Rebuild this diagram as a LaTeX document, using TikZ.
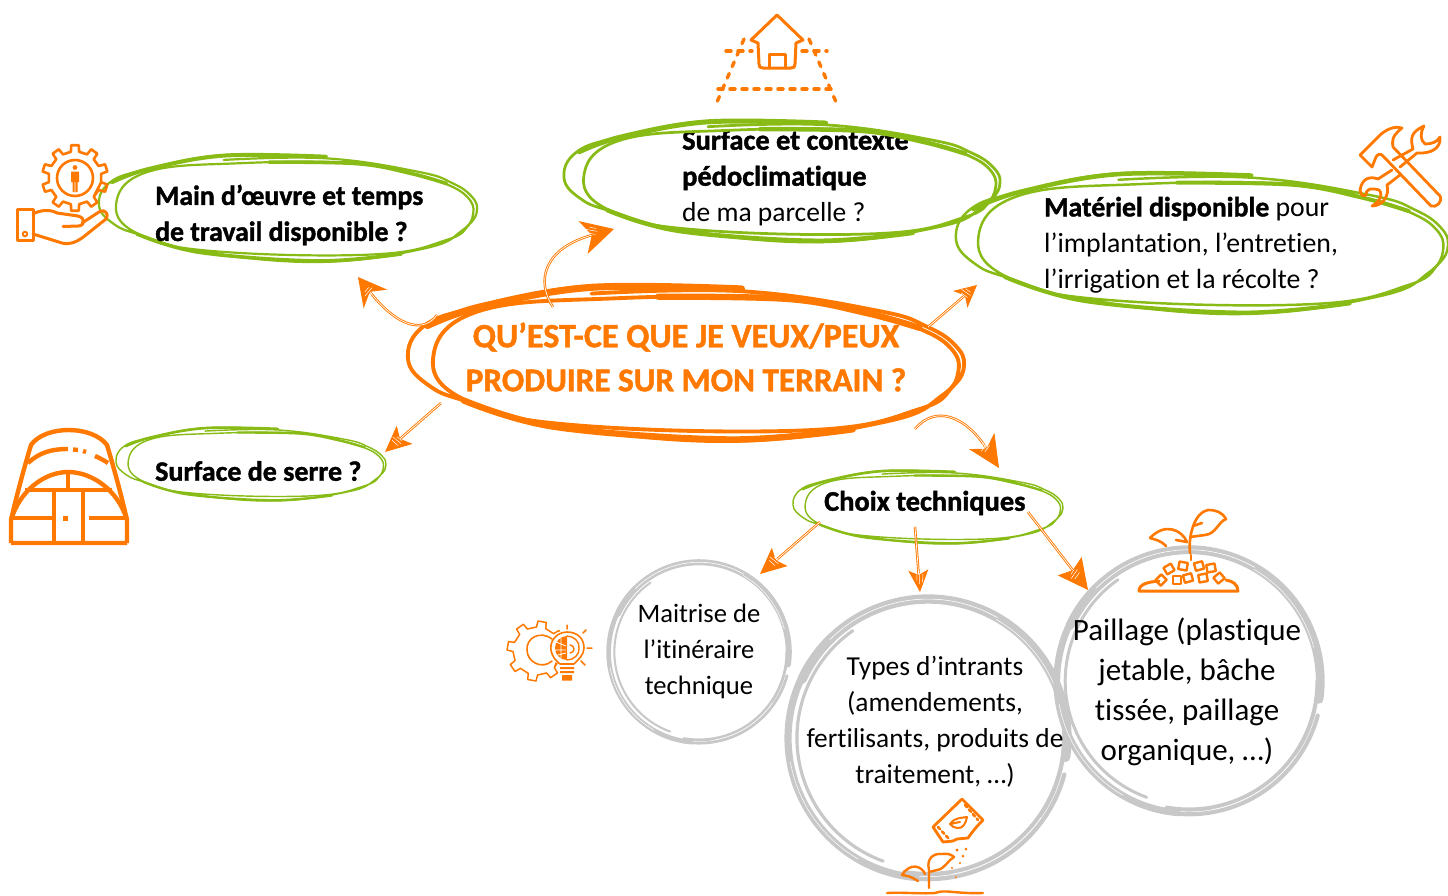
\documentclass[tikz,border=0pt]{standalone}
\usepackage{fontspec}
\setmainfont{Carlito}[Ligatures=CommonOff,BoldFeatures={FakeBold=1.4}]
\usetikzlibrary{arrows.meta,shapes.geometric}
\definecolor{ora}{HTML}{FF7800}
\definecolor{grn}{HTML}{88BB16}
\definecolor{gry}{HTML}{C8C8C8}
\tikzset{
 anch/.style={ellipse,inner sep=0pt,outer sep=0pt},
 body/.style={font=\fontsize{#1}{36}\selectfont,align=left,anchor=west,inner sep=0pt,text=black},
 cbody/.style={font=\fontsize{#1}{36}\selectfont,align=center,inner sep=0pt,text=black},
 title/.style={font=\fontsize{34}{44}\selectfont\bfseries,align=center,inner sep=0pt,text=ora},
 conn/.style={draw=ora,line width=.9pt,double=white,double distance=.7pt},
 ico/.style={draw=ora,line width=#1,line join=round,line cap=round},
 ico/.default=2.5pt
}
\newcommand{\sketchloop}[7]{%
 \node[anch,minimum width=#4*2pt,minimum height=#5*2pt] (#1) at (#2,#3) {};
 \begin{scope}[shift={(#2,#3)},x=#4pt,y=-#5pt,draw=#6,line cap=round,line join=round]
  \draw[line width=#7*.55pt] plot[smooth,tension=.7] coordinates {(.20,-.94)(-.34,-.98)(-.74,-.72)(-.94,-.48)(-1,-.05)(-.92,.3)(-.78,.5)(-.47,.80)(.16,1)(.72,.75)(.92,.42)(.98,.1)(.95,-.2)(.84,-.44)(.68,-.62)(.37,-.83)(-.25,-.83)(-.75,-.66)(-.91,-.05)(-.78,.5)(-.39,.8)(.45,.86)(.84,.59)(.96,.3)(1,.03)(.97,-.22)(.87,-.46)(.69,-.67)(.20,-.92)(-.34,-.89)};
  \draw[line width=#7*1pt] plot[smooth,tension=.6] coordinates {(.20,-.95)(-.34,-.97)(-.74,-.72)(-.93,-.48)};
  \draw[line width=#7*.9pt] plot[smooth,tension=.6] coordinates {(-.8,.48)(-.47,.82)(.16,.98)(.6,.85)};
  \draw[line width=#7*.9pt] plot[smooth,tension=.6] coordinates {(-.1,-.85)(.37,-.82)(.65,-.64)(.84,-.45)};
 \end{scope}}
\newcommand{\brushring}[4]{%
 \node[circle,inner sep=0pt,outer sep=0pt,minimum size=#4*2pt] (#1) at (#2,#3) {};
 \begin{scope}[shift={(#2,#3)},draw=gry,line cap=round]
  \draw[line width=#4*.065pt] (205:#4*.965) arc[start angle=205,end angle=368,radius=#4*.965];
  \draw[line width=#4*.05pt] (95:#4*.972) arc[start angle=95,end angle=225,radius=#4*.972];
  \draw[line width=#4*.03pt] (0:#4*.945) arc[start angle=0,end angle=100,radius=#4*.945];
  \draw[line width=#4*.03pt] (15:#4*.98) arc[start angle=15,end angle=125,radius=#4*.98];
  \draw[line width=#4*.022pt] (110:#4*.91) arc[start angle=110,end angle=235,radius=#4*.91];
  \draw[draw=white,line width=.6pt] (225:#4*.965) arc[start angle=225,end angle=300,radius=#4*.965];
  \draw[draw=white,line width=.5pt] (300:#4*.95) arc[start angle=300,end angle=345,radius=#4*.95];
  \draw[draw=white,line width=.5pt] (120:#4*.97) arc[start angle=120,end angle=170,radius=#4*.97];
  \draw[draw=white,line width=.5pt] (35:#4*.96) arc[start angle=35,end angle=80,radius=#4*.96];
 \end{scope}}
\newcommand{\gearicon}[7]{% cx cy Rout Rin teeth lw offset
 \begin{scope}[shift={(#1,#2)}]
  \draw[ico=#6] (#7-90/#5:#4) \foreach \i in {0,...,#5}{ -- ({#7+\i*360/#5-65/#5}:#3) -- ({#7+\i*360/#5+65/#5}:#3) -- ({#7+\i*360/#5+90/#5}:#4) -- ({#7+(\i+1)*360/#5-90/#5}:#4)} -- cycle;
 \end{scope}}
\newcommand{\pebble}[3]{\draw[ico=2.4pt,rotate around={#3:(#1,#2)}] (#1-4.2,#2-3.8) rectangle (#1+4.2,#2+3.8);}
% white scratches in an arrow head: x y angle
\newcommand{\scratchmark}[3]{\draw[white,line width=.5pt,rotate around={#3:(#1,#2)}] (#1-6,#2) -- (#1+5,#2-1) (#1-4,#2+3) -- (#1+4,#2+2.5) (#1-3,#2-3) -- (#1+3,#2-3.5);}
\begin{document}
\begin{tikzpicture}[x=1pt,y=-1pt]
\useasboundingbox (0,0) rectangle (1448,895);
% --- title
\node[title] (titletext) at (686,357) {QU’EST-CE QUE JE VEUX/PEUX\\{\fontsize{33.2}{44}\selectfont PRODUIRE SUR MON TERRAIN ?}};
\sketchloop{main}{686}{363}{278}{78}{ora}{7}
% --- main d'oeuvre
\sketchloop{moe}{288}{208}{189}{54}{grn}{4}
\node[body=27.7] (moetext) at (155,215) {\bfseries Main d’œuvre et temps\\\bfseries de travail disponible ?};
% --- surface contexte
\node[body=28.4] (surftext) at (682,178) {\bfseries Surface et contexte\\\bfseries pédoclimatique\\{\fontsize{27.5}{36}\selectfont de ma parcelle ?}};
\sketchloop{surf}{782}{181}{218}{61}{grn}{5}
% --- materiel
\sketchloop{mat}{1202}{243}{246}{71}{grn}{4.5}
\node[body=27.8] (mattext) at (1044,245) {\textbf{Matériel disponible} pour\\l’implantation, l’entretien,\\l’irrigation et la récolte ?};
% --- serre
\sketchloop{serre}{251}{464}{135}{37}{grn}{2.6}
\node[body=28] (serretext) at (155,471) {\bfseries Surface de serre ?};
% --- choix
\sketchloop{choix}{928}{507}{135}{37}{grn}{2.6}
\node[body=28.4] (choixtext) at (824,503) {\bfseries Choix techniques};
% --- rings
\brushring{itin}{699}{652}{93}
\brushring{types}{928}{738}{144}
\brushring{pail}{1189}{681}{136}
\node[cbody=26.6] (itintext) at (699,651) {Maitrise de\\l’itinéraire\\technique};
\node[cbody=27.4] (typestext) at (935,722) {Types d’intrants\\(amendements,\\fertilisants, produits de\\traitement, …)};
\node[cbody=31,font=\fontsize{31}{40}\selectfont] (pailtext) at (1187,692) {Paillage (plastique\\jetable, bâche\\tissée, paillage\\organique, …)};
% --- connectors
\draw[conn,-{Stealth[length=28pt,width=30pt,inset=9pt,fill=ora]}] ([shift={(-249,-48)}]main.center) .. controls (425,332) and (400,330) .. ([shift={(70,69)}]moe.center);
\draw[conn,-{Stealth[length=32pt,width=34pt,inset=9pt,fill=ora]}] ([shift={(-133,-56)}]main.center) .. controls (535,280) and (545,248) .. ([shift={(-168,48)}]surf.center);
\draw[conn,-{Stealth[length=22pt,width=22pt,inset=6pt,fill=ora]}] ([shift={(242,-36)}]main.center) -- ([shift={(-225,42)}]mat.center);
\draw[conn,-{Stealth[length=26pt,width=24pt,inset=6pt,fill=ora]}] ([shift={(-245,40)}]main.center) -- ([shift={(134,-12)}]serre.center);
\draw[conn,-{Stealth[length=32pt,width=30pt,inset=9pt,fill=ora]}] ([shift={(229,66)}]main.center) .. controls (935,405) and (965,415) .. ([shift={(71,-39)}]choix.center);
\draw[conn,-{Stealth[length=26pt,width=24pt,inset=5pt,fill=ora]}] ([shift={(-108,15)}]choix.center) -- ([shift={(61,-78)}]itin.center);
\draw[conn,-{Stealth[length=22pt,width=20pt,inset=5pt,fill=ora]}] ([shift={(-13,20)}]choix.center) -- ([shift={(-8,-146)}]types.center);
\draw[conn,-{Stealth[length=30pt,width=30pt,inset=5pt,fill=ora]}] ([shift={(100,5)}]choix.center) -- ([shift={(-101,-91)}]pail.center);
\scratchmark{369}{292}{45}
\scratchmark{592}{231}{-15}
\scratchmark{966}{293}{-40}
\scratchmark{397}{441}{-45}
\scratchmark{985}{447}{50}
\scratchmark{774}{561}{-45}
\scratchmark{920}{578}{85}
\scratchmark{1075}{574}{50}
% --- icon: gear + hand
\gearicon{75}{178}{33}{26.5}{10}{2.6pt}{18}
\draw[ico=2.6pt] (75,178) circle (18);
\fill[ora] (75,167.5) circle (2.4) (71,171.5) rectangle (79,182) (72.5,182) rectangle (74.6,192) (75.4,182) rectangle (77.5,192);
\draw[ico=3pt] (17.5,209) rectangle (33,240);
\draw[ico=2pt] (25,234) circle (2.2);
\draw[ico=3pt] (33,214) .. controls (40,210) and (50,209) .. (57,213) -- (78,216) .. controls (86,218) and (85,226) .. (78,226) -- (63,226.5);
\draw[ico=3pt] (33,234) -- (62,243) .. controls (70,245) and (76,242) .. (82,238) -- (106,219) .. controls (110,214) and (104,208) .. (99,212) -- (82,223);
% --- icon: house
\draw[ico=3pt] (758,43) -- (751,40) -- (777,15) -- (803,40) -- (796,43) -- (795,64) .. controls (795,67) and (794,68) .. (791,68) -- (763,68) .. controls (760,68) and (759,67) .. (759,64) -- cycle;
\draw[ico=3pt] (769,68) -- (769,54) -- (785,54) -- (785,68);
\draw[ico=3.4pt,dash pattern=on 5pt off 7pt] (726,51) -- (752,51);
\draw[ico=3.4pt,dash pattern=on 5pt off 7pt] (802,51) -- (827,51);
\draw[ico=3.4pt,dash pattern=on 5pt off 7pt] (718,89) -- (837,89);
\draw[ico=3.4pt,dash pattern=on 5pt off 7.5pt] (744,39) -- (717,102);
\draw[ico=3.4pt,dash pattern=on 5pt off 7.5pt] (809,39) -- (836,102);
% --- icon: greenhouse
\draw[ico=4.4pt,line cap=butt] (11,543) -- (127,543) (11,543) -- (11,520) .. controls (18,490) and (25,465) .. (31,445) .. controls (45,425) and (92,425) .. (107,445) .. controls (113,465) and (120,490) .. (127,520) -- (127,543);
\draw[ico=4.4pt,line cap=butt] (28,463) .. controls (40,452) and (52,449) .. (68,449);
\draw[ico=4.4pt,line cap=butt] (73,449.5) -- (78,450) (83,451) -- (86,452) (95,456) .. controls (100,458) and (105,461) .. (108,463);
\draw[ico=4.4pt,line cap=butt] (11,520) .. controls (20,490) and (45,472) .. (68,472) .. controls (92,472) and (118,490) .. (127,520);
\draw[ico=4.4pt,line cap=butt] (25,490) -- (112,490) (68,472) -- (68,490) (54,490) -- (54,543) (83,490) -- (83,543) (11,518) -- (54,518) (89,518) -- (127,518);
\fill[ora] (62.5,515.5) rectangle (67.5,520.5);
% --- icon: tools
\draw[ico=2.8pt] (1360,155) -- (1380,135) .. controls (1388,128) and (1396,126) .. (1402,128) .. controls (1396,133) and (1391,137) .. (1393,147) -- (1440,196) .. controls (1443,202) and (1436,208) .. (1431,206) -- (1383,156) .. controls (1380,153) and (1378,154) .. (1376,157) -- (1372,167) -- cycle;
\draw[ico=2.8pt] (1393,160) -- (1413,149) .. controls (1410,138) and (1411,132) .. (1424,126) .. controls (1420,133) and (1420,140) .. (1425,144) .. controls (1432,144) and (1437,142) .. (1440,137) .. controls (1441,147) and (1433,154) .. (1417,153) -- (1400,167);
\draw[ico=2.8pt] (1392,170) -- (1378,179) .. controls (1370,176) and (1362,178) .. (1360,190) .. controls (1361,195) and (1363,197) .. (1366,195) .. controls (1366,188) and (1372,188) .. (1379,190) .. controls (1384,195) and (1378,203) .. (1372,206) .. controls (1382,206) and (1390,196) .. (1387,185) -- (1400,175);
% --- icon: bulb gear
\gearicon{537}{651}{30}{24}{8}{1.5pt}{10}
\fill[white] (567,648) circle (18);
\draw[ico=1.6pt] (552,639) .. controls (540,630) and (526,638) .. (527,650) .. controls (527,662) and (542,670) .. (552,661);
\draw[ico=1.6pt] (560,664) .. controls (552,658) and (550,650) .. (551,645) .. controls (553,635) and (562,632) .. (567,632) .. controls (577,632) and (584,638) .. (584,648) .. controls (584,655) and (578,660) .. (574,664) -- cycle;
\fill[ora] (567,636) arc[start angle=-90,end angle=-270,radius=12] -- cycle;
\draw[white,line width=.8pt] (556,642) -- (566,646) (555,650) -- (566,650) (558,655) -- (566,653) (561,638) -- (561,658);
\draw[ico=1.4pt] (567,636) .. controls (574,636) and (580,642) .. (579,648) .. controls (580,654) and (574,660) .. (567,660);
\draw[ico=1.4pt] (570,645) arc[start angle=-90,end angle=90,radius=4];
\fill[ora] (560,667) rectangle (574,669) (560,671) rectangle (574,673) (562,675) rectangle (572,680.5);
\draw[ico=1.5pt] (567,625) -- (567,629) (583,633) -- (586,630) (587,648) -- (592,648) (581,661) -- (585,665);
% --- icon: mulch seedling
\draw[ico=2.6pt] (1190,553) .. controls (1188,535) and (1195,512) .. (1208,510) .. controls (1216,510) and (1222,512) .. (1226,519) .. controls (1218,522) and (1216,534) .. (1205,535) -- (1190,537);
\draw[ico=2.6pt] (1193,526) -- (1202,523);
\draw[ico=2.6pt] (1187,542) .. controls (1182,530) and (1165,522) .. (1150,538) .. controls (1156,540) and (1160,540) .. (1166,546);
\draw[ico=2.6pt] (1176,540) -- (1187,542);
\draw[ico=2.6pt] (1191,555) -- (1191,560);
\draw[ico=3pt] (1159,581) .. controls (1148,582) and (1139,584) .. (1139,591) -- (1238,591) .. controls (1238,584) and (1232,581) .. (1226,580);
\pebble{1161}{580}{45}\pebble{1169}{569}{30}\pebble{1183}{566}{-10}\pebble{1177}{580}{0}\pebble{1188}{578}{15}\pebble{1199}{566}{15}\pebble{1203}{578}{10}\pebble{1211}{568}{10}\pebble{1219}{578}{40}
% --- icon: seed bag + plant
\draw[ico=2.8pt] (962,799) -- (983,820) .. controls (978,825) and (972,832) .. (968,838) -- (957,839) -- (953,841) -- (943,842) -- (933,827) -- cycle;
\draw[ico=2.6pt,dash pattern=on 3pt off 3pt] (965,805) -- (978,820);
\draw[ico=2.6pt,dash pattern=on 3pt off 3pt] (938,827) -- (950,840);
\draw[ico=2pt] (950,824) .. controls (955,817) and (962,818) .. (967,817) .. controls (966,823) and (963,829) .. (957,828) .. controls (954,828) and (952,826) .. (950,824) -- (960,822);
\fill[ora] (957,850) circle (1.6) (966,849) circle (1.5) (963,856) circle (1.5) (960,863) circle (1.2) (952,868) circle (1.1) (956,877) circle (1);
\draw[ico=2.4pt] (929,888) -- (929,870) .. controls (926,858) and (934,853) .. (942,854) .. controls (948,853) and (952,855) .. (954,857) .. controls (948,860) and (945,869) .. (937,870) -- (929,872);
\draw[ico=2.4pt] (925,874) .. controls (922,866) and (910,862) .. (902,875) .. controls (908,876) and (910,876) .. (918,881);
\draw[ico=2.4pt] (887,893) .. controls (900,892) and (920,894) .. (935,893) .. controls (945,889) and (955,894) .. (983,893);
\end{tikzpicture}
\end{document}
